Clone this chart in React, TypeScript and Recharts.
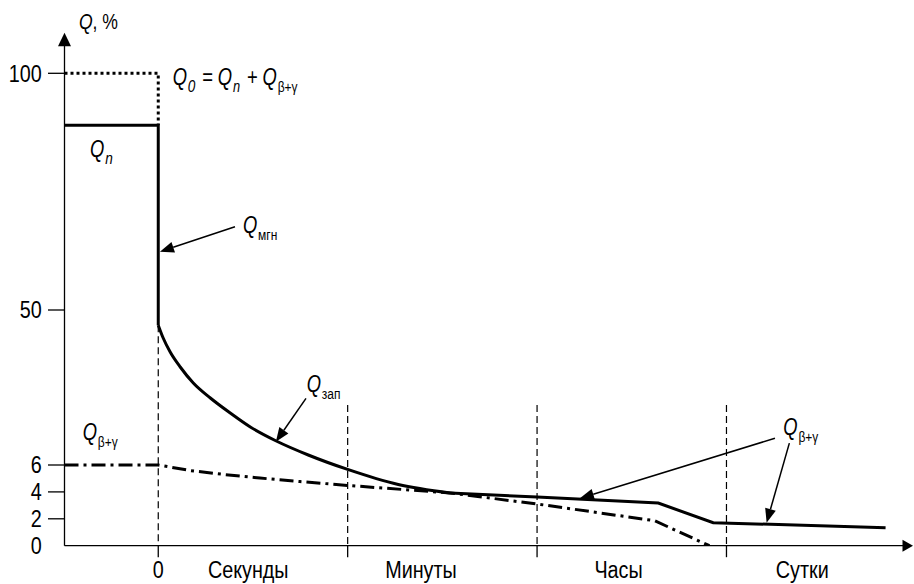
import React from "react";
import { LineChart, Line, XAxis, YAxis, ReferenceLine, ReferenceDot } from "recharts";

const FONT = "'Liberation Sans', Arial, sans-serif";
const NARROW = 0.86;
const LABEL_NARROW = 0.8;
const FS = 23;

// piecewise Q axis: 0..6 stretched, 6..50 compressed, 50..100
const SCALE_Q = [0, 6, 50, 100];
const SCALE_PX = [0, 80.7, 235.7, 472.4];
const Q_TICKS = [0, 2, 4, 6, 50, 100];

// time axis: 0 = start, 1..3 = borders секунды | минуты | часы | сутки
const T_MIN = -0.495;
const T_MAX = 3.932;
const SECTION_BORDERS = [0, 1, 2, 3];
const SECTION_NAMES = ["Секунды", "Минуты", "Часы", "Сутки"];
const SECTION_CENTERS = [0.475, 1.387, 2.43, 3.4];

const q0Dotted = [
  { t: T_MIN, q: 100 },
  { t: 0, q: 100 },
  { t: 0, q: 89 },
];
const qnStep = [
  { t: T_MIN, q: 89 },
  { t: 0, q: 89 },
  { t: 0, q: 45.7 },
];
const qZap = [
  { t: 0, q: 45.7 },
  { t: 0.026, q: 42.05 },
  { t: 0.063, q: 38.08 },
  { t: 0.116, q: 33.82 },
  { t: 0.185, q: 29.28 },
  { t: 0.275, q: 25.02 },
  { t: 0.38, q: 20.76 },
  { t: 0.486, q: 16.79 },
  { t: 0.623, q: 12.81 },
  { t: 0.792, q: 8.84 },
  { t: 1.0, q: 5.67 },
  { t: 1.267, q: 4.55 },
  { t: 1.541, q: 3.92 },
];
const qTail = [
  { t: 1.541, q: 3.92 },
  { t: 2.0, q: 3.62 },
  { t: 2.64, q: 3.17 },
  { t: 2.93, q: 1.71 },
  { t: 3.84, q: 1.34 },
];
const qBetaGamma = [
  { t: T_MIN, q: 6 },
  { t: 0, q: 6 },
  { t: 0.167, q: 5.59 },
  { t: 0.352, q: 5.29 },
  { t: 0.537, q: 5.03 },
  { t: 0.748, q: 4.77 },
  { t: 1.0, q: 4.48 },
  { t: 1.541, q: 3.92 },
  { t: 2.0, q: 3.1 },
  { t: 2.62, q: 1.86 },
  { t: 2.91, q: 0 },
];

// dashed section borders: [t, top q]
const borderTops = [
  { t: 0, q: 45.7 },
  { t: 1, q: 23 },
  { t: 2, q: 23 },
  { t: 3, q: 23 },
];

// annotation arrows, from label to curve
const arrows = [
  { from: { t: 0.405, q: 67.6 }, to: { t: 0.009, q: 62.3 } },
  { from: { t: 0.78, q: 24.9 }, to: { t: 0.621, q: 12.6 } },
  { from: { t: 3.256, q: 13.6 }, to: { t: 2.226, q: 3.52 } },
  { from: { t: 3.332, q: 12.2 }, to: { t: 3.212, q: 1.71 } },
];

function toPlot(q: number) {
  let i = 0;
  while (i < SCALE_Q.length - 2 && q > SCALE_Q[i + 1]) i++;
  const k = (SCALE_PX[i + 1] - SCALE_PX[i]) / (SCALE_Q[i + 1] - SCALE_Q[i]);
  return SCALE_PX[i] + (q - SCALE_Q[i]) * k;
}

const rows = (pts: { t: number; q: number }[]) => pts.map((p) => ({ t: p.t, y: toPlot(p.q) }));

// condensed text: regular font squeezed horizontally
const NText = ({ x, y, anchor = "start", size = FS, squeeze = NARROW, children, dy }: any) => (
  <text
    transform={`translate(${x},${y}) scale(${squeeze},1)`}
    textAnchor={anchor}
    dy={dy}
    fontFamily={FONT}
    fontSize={size}
    fill="#000"
  >
    {children}
  </text>
);

const Arrow = (p: any) => {
  const { x1, y1, x2, y2 } = p;
  const len = Math.hypot(x2 - x1, y2 - y1);
  const ux = (x2 - x1) / len;
  const uy = (y2 - y1) / len;
  const hl = 14;
  const hw = 5.5;
  const bx = x2 - ux * hl;
  const by = y2 - uy * hl;
  return (
    <g>
      <line x1={x1} y1={y1} x2={bx} y2={by} stroke="#000" strokeWidth={1.5} />
      <polygon
        points={`${x2},${y2} ${bx - uy * hw},${by + ux * hw} ${bx + uy * hw},${by - ux * hw}`}
        fill="#000"
      />
    </g>
  );
};

const Sub = ({ children, size = 15, italic = false, drop = 7 }: any) => (
  <>
    <tspan dx={1} dy={drop} fontSize={size} fontStyle={italic ? "italic" : "normal"}>
      {children}
    </tspan>
    <tspan dy={-drop} fontSize={FS}>
      {"\u200a"}
    </tspan>
  </>
);

const labelShape = (content: React.ReactNode) => (p: any) => (
  <NText x={p.cx} y={p.cy} squeeze={LABEL_NARROW}>
    {content}
  </NText>
);

const labels = [
  {
    t: -0.419,
    q: 109.4,
    content: (
      <>
        <tspan fontStyle="italic" fontSize={22}>Q</tspan>
        <tspan fontSize={22}>, %</tspan>
      </>
    ),
  },
  {
    t: 0.076,
    q: 97.5,
    content: (
      <>
        <tspan fontStyle="italic">Q</tspan>
        <Sub italic size={17}>0</Sub>
        <tspan fontStyle="italic"> = Q</tspan>
        <Sub italic size={16}>n</Sub>
        <tspan fontStyle="italic"> + Q</tspan>
        <Sub>β+γ</Sub>
      </>
    ),
  },
  {
    t: -0.36,
    q: 82.4,
    content: (
      <>
        <tspan fontStyle="italic">Q</tspan>
        <Sub italic size={17}>n</Sub>
      </>
    ),
  },
  {
    t: -0.399,
    q: 13.1,
    content: (
      <>
        <tspan fontStyle="italic">Q</tspan>
        <Sub>β+γ</Sub>
      </>
    ),
  },
  {
    t: 0.447,
    q: 66.3,
    content: (
      <>
        <tspan fontStyle="italic">Q</tspan>
        <Sub>мгн</Sub>
      </>
    ),
  },
  {
    t: 0.784,
    q: 26.8,
    content: (
      <>
        <tspan fontStyle="italic">Q</tspan>
        <Sub>зап</Sub>
      </>
    ),
  },
  {
    t: 3.3,
    q: 14.5,
    content: (
      <>
        <tspan fontStyle="italic">Q</tspan>
        <Sub>β+γ</Sub>
      </>
    ),
  },
];

const YTick = (p: any) => {
  const v = p.payload.value;
  const label = Q_TICKS.find((q) => Math.abs(toPlot(q) - v) < 0.01);
  return (
    <g>
      {label !== 0 && (
        <line x1={p.x - 16.5} y1={p.y} x2={p.x} y2={p.y} stroke="#000" strokeWidth={1.3} />
      )}
      <NText x={p.x - 22.8} y={p.y} dy="0.36em" anchor="end">
        {label}
      </NText>
    </g>
  );
};

const XTick = (p: any) => {
  const v = p.payload.value;
  const border = SECTION_BORDERS.indexOf(v);
  const center = SECTION_CENTERS.indexOf(v);
  return (
    <g>
      {border >= 0 && <line x1={p.x} y1={p.y} x2={p.x} y2={p.y + 11.5} stroke="#000" strokeWidth={1.3} />}
      {v === 0 && (
        <NText x={p.x} y={p.y + 32} anchor="middle">
          0
        </NText>
      )}
      {center >= 0 && (
        <NText x={p.x} y={p.y + 32} anchor="middle">
          {SECTION_NAMES[center]}
        </NText>
      )}
    </g>
  );
};

const UpArrow = (p: any) => (
  <polygon points={`${p.cx},${p.cy - 13} ${p.cx - 6.5},${p.cy + 0.5} ${p.cx + 6.5},${p.cy + 0.5}`} fill="#000" />
);
const RightArrow = (p: any) => (
  <polygon points={`${p.cx + 10},${p.cy} ${p.cx - 0.5},${p.cy - 6} ${p.cx - 0.5},${p.cy + 6}`} fill="#000" />
);

export default function App() {
  const xTicks = [...SECTION_BORDERS, ...SECTION_CENTERS].sort((a, b) => a - b);
  return (
    <div style={{ width: 914, height: 584, background: "#fff" }}>
      <style>{"body{margin:0}"}</style>
      <LineChart width={914} height={584} margin={{ top: 45.7, right: 11, bottom: 0, left: 0 }}>
        <XAxis
          dataKey="t"
          type="number"
          domain={[T_MIN, T_MAX]}
          allowDataOverflow
          ticks={xTicks}
          interval={0}
          height={38.3}
          tickSize={0}
          tickMargin={0}
          tickLine={false}
          axisLine={{ stroke: "#000", strokeWidth: 1.3 }}
          tick={<XTick />}
        />
        <YAxis
          type="number"
          domain={[0, 500]}
          allowDataOverflow
          ticks={Q_TICKS.map(toPlot)}
          interval={0}
          width={64.5}
          tickSize={0}
          tickMargin={0}
          tickLine={false}
          axisLine={{ stroke: "#000", strokeWidth: 1.3 }}
          tick={<YTick />}
        />
        {borderTops.map((b) => (
          <ReferenceLine
            key={b.t}
            segment={[
              { x: b.t, y: toPlot(b.q) },
              { x: b.t, y: 0 },
            ]}
            stroke="#000"
            strokeWidth={1.2}
            strokeDasharray="7 4"
            ifOverflow="visible"
          />
        ))}
        <Line data={rows(q0Dotted)} dataKey="y" type="linear" stroke="#000" strokeWidth={3} strokeDasharray="3 3" dot={false} activeDot={false} isAnimationActive={false} />
        <Line data={rows(qBetaGamma)} dataKey="y" type="linear" stroke="#000" strokeWidth={3} strokeDasharray="14 5 3 5" dot={false} activeDot={false} isAnimationActive={false} />
        <Line data={rows(qnStep)} dataKey="y" type="linear" stroke="#000" strokeWidth={3} dot={false} activeDot={false} isAnimationActive={false} />
        <Line data={rows(qZap)} dataKey="y" type="monotone" stroke="#000" strokeWidth={3} dot={false} activeDot={false} isAnimationActive={false} />
        <Line data={rows(qTail)} dataKey="y" type="linear" stroke="#000" strokeWidth={3} dot={false} activeDot={false} isAnimationActive={false} />
        {arrows.map((a, i) => (
          <ReferenceLine
            key={i}
            segment={[
              { x: a.from.t, y: toPlot(a.from.q) },
              { x: a.to.t, y: toPlot(a.to.q) },
            ]}
            shape={Arrow}
            ifOverflow="visible"
          />
        ))}
        {labels.map((l, i) => (
          <ReferenceDot key={i} x={l.t} y={toPlot(l.q)} r={1} shape={labelShape(l.content)} ifOverflow="visible" />
        ))}
        <ReferenceDot x={T_MIN} y={500} r={1} shape={UpArrow} ifOverflow="visible" />
        <ReferenceDot x={T_MAX} y={0} r={1} shape={RightArrow} ifOverflow="visible" />
      </LineChart>
    </div>
  );
}
